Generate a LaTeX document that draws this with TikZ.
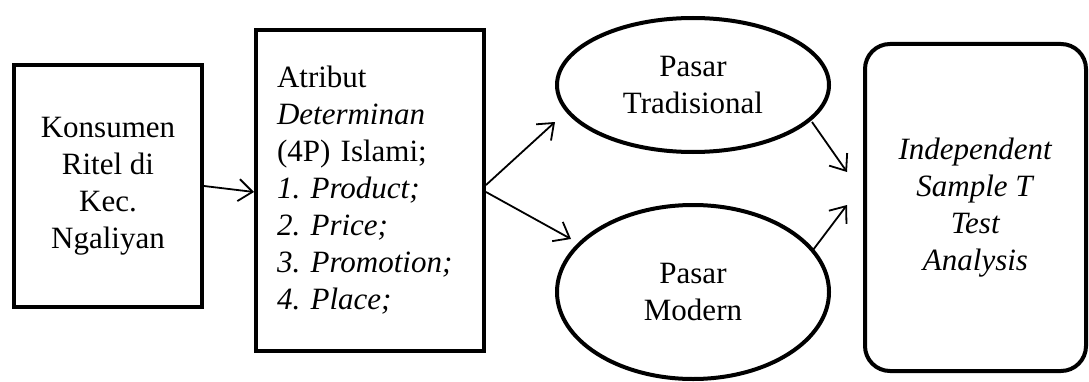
\documentclass[tikz,border=0pt]{standalone}
\usepackage{fontspec}
\setmainfont{Liberation Serif}
\usetikzlibrary{shapes.geometric,arrows.meta}
\frenchspacing
\begin{document}
\begin{tikzpicture}[x=1pt,y=1pt,
  every node/.style={font=\fontsize{31}{37}\selectfont},
  thickbox/.style={draw,line width=4pt,rectangle,inner sep=2pt},
  oval/.style={draw,line width=4pt,ellipse,inner sep=0pt},
  arr/.style={line width=1.8pt,-{Straight Barb[length=14pt,width=22pt,line width=1.8pt]}}]
\useasboundingbox (0,0) rectangle (1089,381);
\node[thickbox,minimum width=188pt,minimum height=242pt,align=center] (kons) at (108,195)
  {Konsumen\\Ritel di\\Kec.\\Ngaliyan};
\node[thickbox,minimum width=228pt,minimum height=321pt,text width=186pt,inner xsep=21pt,align=left] (atr) at (370,190.5)
  {Atribut\\\textit{Determinan}\\(4P) Islami;\\\textit{1. Product;}\\\textit{2. Price;}\\\textit{3. Promotion;}\\\textit{4. Place;}};
\node[oval,minimum width=272pt,minimum height=134pt,align=center] (trad) at (693,296)
  {Pasar\\Tradisional};
\node[oval,minimum width=272pt,minimum height=174pt,align=center] (mod) at (693,89)
  {Pasar\\Modern};
\node[thickbox,rounded corners=25pt,minimum width=221pt,minimum height=327pt,align=center] (ttest) at (975.5,173.5)
  {\textit{Independent}\\\textit{Sample T}\\\textit{Test}\\\textit{Analysis}};
\draw[arr] ([yshift=0pt]kons.east) -- ([yshift=-1.5pt]atr.west);
\draw[arr] ([yshift=5.5pt]atr.east) -- ([shift={(0pt,-37pt)}]trad.west);
\draw[arr] ([yshift=-1.5pt]atr.east) -- ([shift={(16pt,53pt)}]mod.west);
\draw[arr] ([shift={(119pt,-37pt)}]trad.center) -- ([shift={(-16pt,35.5pt)}]ttest.west);
\draw[arr] ([shift={(120pt,42pt)}]mod.center) -- ([shift={(-16pt,2.5pt)}]ttest.west);
\end{tikzpicture}
\end{document}
